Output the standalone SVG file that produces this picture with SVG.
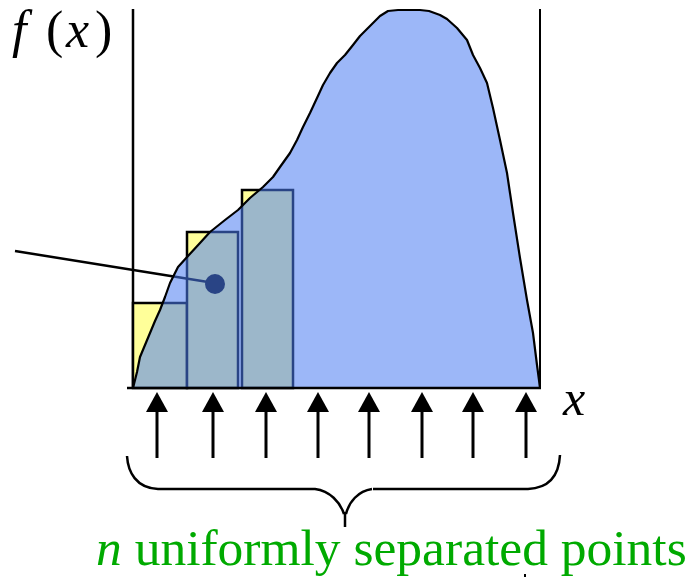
<svg xmlns="http://www.w3.org/2000/svg" width="692" height="577" viewBox="0 0 692 577">
  <style>
    .ax { stroke:#000; fill:none; }
    .bar { fill:#FFFF99; stroke:#000; stroke-width:2.5; }
    .lbl { font-family:"Liberation Serif","Times New Roman",serif; fill:#000; }
    .it { font-style:italic; }
  </style>
  <defs>
    <g id="arr">
      <line x1="0" y1="408" x2="0" y2="458" stroke="#000" stroke-width="3"/>
      <polygon points="0,392 -11,412 11,412" fill="#000"/>
    </g>
  </defs>
  <rect width="692" height="577" fill="#fff"/>

  <g id="axes">
    <line class="ax" x1="133" y1="9" x2="133" y2="389" stroke-width="2.5"/>
    <line class="ax" x1="540" y1="9" x2="540" y2="389" stroke-width="2"/>
  </g>

  <g id="bars">
    <rect id="bar1" class="bar" x="133" y="303" width="54" height="85"/>
    <rect id="bar2" class="bar" x="187" y="232" width="51" height="156"/>
    <rect id="bar3" class="bar" x="242" y="190" width="51" height="198"/>
  </g>

  <g id="sample">
    <line x1="15" y1="251" x2="208" y2="282" stroke="#000" stroke-width="2.5"/>
    <circle cx="215" cy="284" r="10" fill="#000"/>
  </g>

  <g id="area">
    <path id="areafill" fill="#4A7BF2" fill-opacity="0.55" stroke="none" d="M133,388 L137,372 140,357 145,345 150,333 155,321 160,310 165,297 170,283 178,267 188,256 200,243 210,232 225,220 238,210 250,198 263,187 273,177 280,167 290,153 297,140 303,127 310,113 317,98 323,85 330,73 337,63 345,55 353,45 360,36 373,23 380,16 388,11 398,10 420,10 429,11 440,15 447,19 457,28 467,40 473,55 480,68 487,83 493,108 500,140 507,173 513,213 520,258 527,300 533,333 537,365 539,380 540,388 Z"/>
    <path id="curve" fill="none" stroke="#000" stroke-width="2.2" stroke-linejoin="round" d="M133,388 L137,372 140,357 145,345 150,333 155,321 160,310 165,297 170,283 178,267 188,256 200,243 210,232 225,220 238,210 250,198 263,187 273,177 280,167 290,153 297,140 303,127 310,113 317,98 323,85 330,73 337,63 345,55 353,45 360,36 373,23 380,16 388,11 398,10 420,10 429,11 440,15 447,19 457,28 467,40 473,55 480,68 487,83 493,108 500,140 507,173 513,213 520,258 527,300 533,333 537,365 539,380 540,388"/>
    <line class="ax" x1="127" y1="388" x2="541" y2="388" stroke-width="2.5"/>
  </g>

  <g id="connectors">
    <use href="#arr" x="157"/>
    <use href="#arr" x="213"/>
    <use href="#arr" x="266"/>
    <use href="#arr" x="318"/>
    <use href="#arr" x="369"/>
    <use href="#arr" x="422"/>
    <use href="#arr" x="473"/>
    <use href="#arr" x="526"/>
  </g>

  <g id="brace">
    <path fill="none" stroke="#000" stroke-width="2.5" d="M127,456 C128,472 136,488 158,489 L315,489 C330,491 340,502 344,514 M372,489 C358,491 349,502 346,514 M345,512 L345,527 M373,489 L528,489 C550,488 559,474 560,455"/>
  </g>

  <g id="labels">
    <text class="lbl" font-size="52" y="47"><tspan class="it" x="12">f</tspan><tspan x="46">(</tspan><tspan class="it" x="66">x</tspan><tspan x="95">)</tspan></text>
    <text class="lbl it" font-size="50" x="563" y="415">x</text>
    <text font-family="'Liberation Serif','Times New Roman',serif" font-size="51.5" fill="#00AA00" x="96" y="565"><tspan font-style="italic">n</tspan> uniformly separated points</text>
    <rect x="524" y="574" width="2" height="3" fill="#000"/>
  </g>
</svg>
